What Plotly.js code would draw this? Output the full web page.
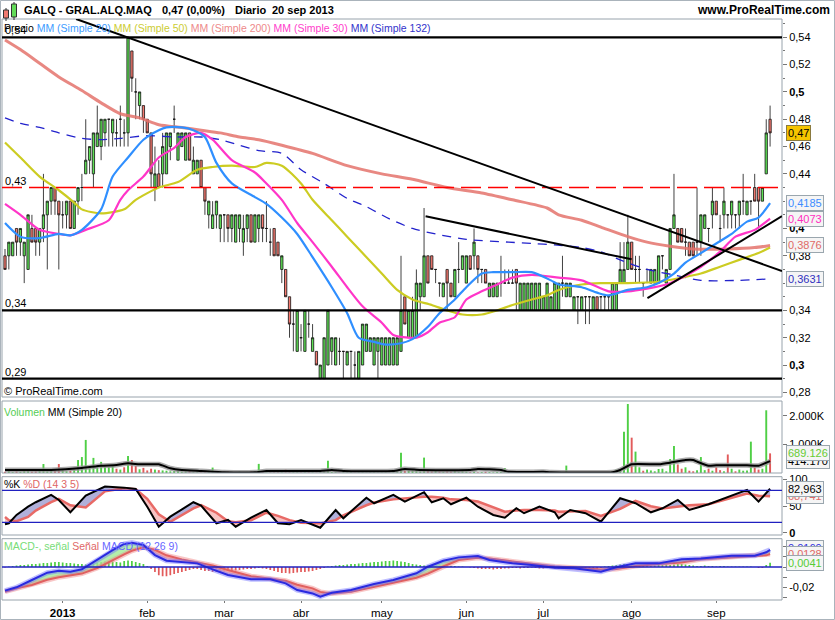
<!DOCTYPE html>
<html><head><meta charset="utf-8">
<script src="https://cdn.plot.ly/plotly-3.0.1.min.js"></script>
<style>html,body{margin:0;padding:0;background:#fff;}#chart{width:835px;height:620px;}</style>
</head><body><div id="chart"></div>
<script>
// ================= DATA =================
const startDate = '2012-12-07', endDate = '2013-09-20';
const holidays = ['2012-12-25','2012-12-26','2013-01-01','2013-03-29','2013-04-01','2013-05-01'];
const monthLabels = ['2013','feb','mar','abr','may','jun','jul','ago','sep'];

const open = [.38,.38,.38,.40,.39,.38,.37,.40,.40,.39, .40,.41,.42,.43,.42,.41,.41,.42,.40,.42,
 .43,.44,.45,.44,.46,.46,.47,.48,.47,.47, .48,.47,.47,.53,.50,.49,.49,.48,.47,.43,
 .44,.44,.44,.46,.48,.45,.46,.45,.47,.44, .44,.45,.43,.41,.40,.41,.40,.41,.41,.40,
 .39,.40,.39,.40,.41,.39,.40,.41,.40,.39, .40,.39,.37,.37,.35,.33,.31,.32,.31,.33,
 .31,.31,.29,.29,.30,.31,.30,.31,.31,.30, .31,.30,.29,.30,.31,.31,.30,.31,.30,.30,
 .30,.30,.30,.31,.35,.32,.32,.32,.35,.35, .38,.38,.37,.36,.35,.37,.36,.35,.37,.37,
 .36,.38,.38,.38,.37,.37,.35,.35,.35,.36, .36,.36,.36,.37,.34,.34,.34,.34,.34,.34,
 .34,.34,.34,.34,.34,.36,.35,.35,.34,.35, .34,.35,.35,.34,.35,.35,.35,.35,.34,.34,
 .36,.36,.37,.39,.37,.37,.36,.37,.36,.36, .36,.38,.36,.37,.40,.40,.40,.39,.39,.39,
 .39,.39,.40,.40,.41,.42,.40,.41,.41,.41, .41,.41,.42,.41,.42,.43,.43,.42,.44,.48];
const high = [.385,.39,.39,.40,.40,.39,.41,.41,.40,.40, .44,.42,.43,.43,.42,.42,.42,.42,.42,.43,
 .44,.48,.46,.47,.49,.48,.48,.48,.48,.48, .49,.48,.54,.53,.51,.50,.49,.48,.47,.46,
 .45,.47,.47,.47,.49,.47,.47,.47,.47,.46, .45,.45,.43,.42,.42,.42,.41,.41,.41,.41,
 .41,.41,.41,.41,.41,.41,.41,.41,.42,.40, .40,.39,.38,.37,.35,.34,.34,.33,.34,.34,
 .33,.31,.30,.32,.34,.32,.32,.32,.31,.31, .31,.31,.31,.33,.33,.32,.32,.32,.32,.32,
 .32,.32,.32,.38,.35,.34,.35,.37,.36,.415, .38,.38,.37,.36,.36,.37,.36,.37,.39,.38,
 .38,.38,.40,.38,.37,.37,.36,.36,.36,.38, .37,.37,.37,.37,.36,.36,.36,.36,.36,.36,
 .35,.36,.35,.36,.36,.38,.36,.36,.35,.35, .35,.35,.35,.35,.35,.35,.35,.35,.36,.36,
 .39,.39,.41,.39,.38,.38,.36,.37,.37,.37, .38,.38,.37,.40,.44,.40,.40,.40,.39,.39,
 .43,.41,.41,.40,.43,.42,.41,.43,.41,.42, .41,.42,.44,.42,.42,.44,.43,.43,.48,.49];
const low = [.37,.37,.38,.38,.38,.36,.37,.39,.38,.38, .39,.37,.41,.41,.37,.40,.40,.40,.40,.41,
 .42,.44,.44,.43,.46,.45,.46,.46,.46,.46, .46,.46,.46,.50,.48,.48,.47,.47,.43,.42,
 .43,.43,.44,.45,.47,.45,.46,.45,.45,.44, .44,.43,.41,.40,.40,.40,.39,.39,.39,.39,
 .39,.39,.38,.39,.39,.39,.39,.39,.39,.38, .38,.38,.36,.35,.32,.31,.31,.31,.31,.32,
 .31,.30,.29,.29,.30,.30,.30,.30,.29,.30, .29,.29,.29,.30,.31,.31,.30,.29,.30,.30,
 .30,.30,.30,.31,.33,.32,.32,.32,.34,.35, .36,.37,.36,.35,.35,.34,.35,.35,.36,.37,
 .36,.37,.37,.36,.36,.36,.35,.35,.35,.35, .36,.36,.36,.34,.34,.34,.34,.34,.34,.34,
 .34,.34,.34,.34,.34,.35,.35,.35,.34,.33, .34,.33,.33,.34,.34,.34,.34,.34,.34,.34,
 .36,.36,.37,.37,.36,.36,.35,.36,.36,.36, .36,.37,.36,.37,.40,.39,.39,.38,.38,.38,
 .38,.38,.40,.39,.40,.41,.39,.40,.40,.40, .40,.40,.41,.41,.41,.42,.40,.42,.44,.46];
const close = [.37,.39,.39,.39,.40,.39,.41,.39,.39,.40, .41,.42,.43,.42,.41,.41,.42,.40,.42,.43,
 .43,.45,.46,.47,.47,.48,.48,.48,.48,.47, .48,.47,.54,.51,.50,.50,.48,.47,.44,.44,
 .43,.46,.47,.47,.48,.47,.47,.47,.45,.45, .45,.43,.42,.42,.41,.42,.41,.41,.40,.41,
 .41,.41,.40,.41,.39,.41,.41,.40,.40,.39, .38,.38,.38,.35,.33,.33,.34,.32,.34,.33,
 .32,.30,.30,.32,.34,.32,.32,.31,.31,.31, .31,.30,.31,.33,.33,.32,.32,.32,.32,.32,
 .32,.32,.32,.34,.33,.34,.34,.36,.36,.38, .36,.37,.37,.36,.36,.36,.35,.37,.37,.38,
 .38,.37,.39,.37,.37,.36,.36,.36,.36,.36, .36,.36,.36,.36,.36,.36,.36,.36,.36,.36,
 .35,.36,.35,.36,.36,.36,.36,.36,.35,.35, .35,.35,.35,.35,.34,.35,.35,.35,.36,.36,
 .37,.37,.39,.37,.37,.37,.36,.37,.37,.37, .38,.38,.37,.40,.41,.39,.39,.39,.38,.38,
 .39,.41,.41,.40,.42,.41,.40,.42,.41,.42, .41,.42,.42,.42,.42,.42,.42,.43,.47,.47];
// volume in thousands
const volume = [40,70,30,60,40,90,120,50,60,80, 315,60,140,80,315,100,60,90,120,455,
 560,1160,250,530,200,390,230,210,280,150, 120,200,600,455,250,130,180,90,150,120,
 100,90,80,60,70,80,50,60,80,40, 60,90,70,80,190,40,60,30,50,40,
 30,50,20,40,60,50,320,40,60,30, 40,50,60,120,100,40,60,30,50,40,
 30,20,50,60,430,40,30,20,40,30, 50,20,30,40,20,30,40,20,30,40,
 20,30,50,710,150,80,90,120,60,540, 120,60,80,50,40,60,50,70,40,60,
 50,30,40,20,30,40,30,20,30,40, 175,30,40,30,20,30,20,30,20,40,
 30,20,30,20,30,40,260,30,20,30, 20,30,40,30,20,30,20,30,60,120,
 80,1450,2420,1240,750,200,80,120,90,60, 140,150,60,490,950,300,150,200,80,60,
 100,560,100,150,80,200,100,60,650,150, 60,120,80,90,1100,200,120,150,2200,689];
const volMAIdx = [0,12,20,25,29,32,35,40,43,46,51,57,65,68,82,85,88,101,104,108,121,123,129,131,140,142,158,160,163,170,173,177,179,180,183,185,193,196,199];
const volMA = [105,105,175,255,280,340,305,305,165,105,70,25,25,70,70,105,70,70,140,105,105,140,105,40,40,25,25,105,305,305,360,455,455,400,255,270,270,255,414];

// moving averages of price (index = trading day)
const ma20Idx = [0,4,9,14,17,20,25,28,32,36,40,42,46,49,52,55,59,65,68,72,76,80,85,89,92,96,99,103,106,110,113,117,120,124,127,132,137,142,144,150,154,157,162,167,170,174,177,181,185,189,193,196,199];
const ma20 = [0.404,0.394,0.393,0.396,0.395,0.399,0.414,0.438,0.452,0.465,0.472,0.474,0.474,0.472,0.467,0.448,0.433,0.423,0.418,0.408,0.396,0.379,0.357,0.338,0.32,0.317,0.315,0.316,0.319,0.328,0.338,0.348,0.357,0.367,0.368,0.368,0.368,0.362,0.359,0.357,0.353,0.351,0.355,0.357,0.36,0.367,0.375,0.382,0.389,0.396,0.405,0.408,0.4185];
const ma30Idx = [0,4,9,14,17,21,27,30,32,36,40,44,47,51,54,59,65,68,72,76,80,85,89,93,98,101,105,107,110,113,117,120,124,128,132,137,144,150,157,162,167,172,176,181,186,190,195,199];
const ma30 = [0.418,0.41,0.399,0.396,0.395,0.399,0.406,0.421,0.428,0.438,0.452,0.459,0.467,0.47,0.465,0.45,0.441,0.433,0.421,0.404,0.39,0.372,0.357,0.343,0.331,0.322,0.32,0.32,0.324,0.331,0.335,0.348,0.354,0.359,0.364,0.366,0.364,0.362,0.354,0.354,0.356,0.359,0.364,0.372,0.383,0.394,0.399,0.4073];
const ma50Idx = [0,4,9,14,18,20,25,31,34,40,45,50,54,59,65,68,72,77,80,85,89,93,98,102,106,111,115,119,124,128,132,137,141,144,150,155,162,170,176,181,186,191,196,199];
const ma50 = [0.463,0.452,0.438,0.428,0.419,0.414,0.411,0.414,0.421,0.43,0.434,0.443,0.445,0.446,0.445,0.448,0.446,0.433,0.421,0.406,0.394,0.382,0.367,0.355,0.348,0.344,0.34,0.337,0.337,0.34,0.344,0.348,0.351,0.355,0.359,0.36,0.36,0.361,0.364,0.367,0.372,0.377,0.382,0.386];
const ma200Idx = [0,4,9,14,20,25,30,35,40,46,51,56,61,66,72,80,89,98,106,115,124,132,141,144,150,155,162,167,173,179,188,195,199];
const ma200 = [0.538,0.531,0.521,0.511,0.501,0.492,0.484,0.481,0.476,0.474,0.472,0.47,0.467,0.465,0.461,0.455,0.446,0.44,0.436,0.43,0.426,0.421,0.415,0.41,0.406,0.401,0.394,0.39,0.387,0.385,0.385,0.386,0.3876];
const ma132Idx = [0,4,9,14,20,25,30,37,44,51,56,61,66,72,77,83,89,94,100,106,112,120,131,137,143,150,155,160,167,174,181,191,199];
const ma132 = [0.481,0.477,0.474,0.47,0.466,0.465,0.466,0.468,0.467,0.467,0.465,0.461,0.457,0.455,0.443,0.433,0.422,0.416,0.407,0.40,0.396,0.392,0.39,0.389,0.388,0.386,0.383,0.377,0.37,0.366,0.362,0.362,0.3631];

// horizontal levels and trend lines (index, price)
const levels = [0.54, 0.34, 0.29];
const dashedLevel = 0.43;
const trendLines = [[18.5,0.5534,202.1,0.3688],[109.4,0.409,163,0.3774],[167.1,0.349,202.1,0.409]];

// stochastic %K %D (14 3 5)
const stochIdx = [0,1,3,6,8,12,14,17,21,26,31,34,37,40,43,49,51,55,58,60,64,68,71,74,77,80,82,86,88,94,96,101,104,109,111,114,116,120,123,127,130,133,135,139,143,144,147,151,155,160,164,168,171,175,178,183,187,193,196,199];
const stochK = [16.3,18.2,33.8,49.3,57.6,71.3,61.9,38.8,70,86.9,85,82.5,49.3,11.8,30.6,57.6,51.2,18.2,24.4,11.8,28.7,43.1,18.2,16.3,24.4,16.3,9.9,43.1,27.6,66.2,55.7,71.3,58.7,76.4,57.6,65.1,53.8,66.2,49.3,33.8,28.7,46.3,37,49.3,38.8,27.6,43.1,37,21.2,65.1,55.7,38.8,46.3,61.9,43.1,53.8,65.1,80.7,58.7,82.963];
const stochD = [30,24,22,30,42,58,64,52,48,78,84,82,64,35,21,46,52,38,22,20,24,38,32,24,19,18,18,24,33,52,57,63,65,68,68,66,63,62,59,48,40,42,43,43,42,40,40,41,32,45,60,50,46,50,52,54,62,74,70,68.741];

// MACD (12 26 9)
const macdIdx = [0,3,7,11,14,17,20,24,28,31,33,36,39,42,46,50,54,58,64,69,73,76,80,82,85,90,96,101,107,110,114,118,123,126,132,137,143,148,155,159,164,170,176,181,189,195,198,199];
const macdLine = [-0.0233,-0.020,-0.0128,-0.0056,-0.0036,-0.0046,-0.0023,0.0069,0.0167,0.0227,0.024,0.0217,0.0118,0.0062,0.0052,0.0036,-0.0023,-0.0079,-0.0121,-0.0121,-0.0161,-0.0227,-0.026,-0.0292,-0.0253,-0.0227,-0.0167,-0.0128,-0.0062,0.0003,0.0062,0.0095,0.0108,0.0069,0.0036,0.002,-0.0007,-0.0013,-0.0046,-0.0003,0.0036,0.0036,0.0076,0.0085,0.0111,0.0111,0.0145,0.0169];
const signalLine = [-0.0243,-0.021,-0.0177,-0.0125,-0.010,-0.0085,-0.0065,-0.001,0.007,0.0125,0.016,0.0195,0.017,0.0115,0.0075,0.0045,0.0015,-0.003,-0.009,-0.0115,-0.0135,-0.0175,-0.021,-0.0245,-0.026,-0.0245,-0.020,-0.0155,-0.0105,-0.0065,0.0005,0.0069,0.0092,0.0085,0.0055,0.003,0.0005,-0.0008,-0.0025,-0.002,0.001,0.003,0.0045,0.0076,0.0098,0.0108,0.0115,0.0128];
const macdHist = [-0.0005,0.0005,0.001,0.0015,0.002,0.002,0.0025,0.003,0.003,0.0035,
 0.004,0.004,0.0045,0.005,0.005,0.0045,0.004,0.004,0.0035,0.003,
 0.003,0.0025,0.003,0.0035,0.004,0.005,0.0055,0.006,0.0055,0.005,
 0.0045,0.006,0.0065,0.006,0.005,0.004,0.003,0.001,-0.002,-0.005,
 -0.008,-0.009,-0.009,-0.008,-0.007,-0.006,-0.005,-0.004,-0.003,-0.002,
 -0.002,-0.003,-0.004,-0.004,-0.005,-0.005,-0.005,-0.0045,-0.004,-0.004,
 -0.0035,-0.003,-0.0025,-0.002,-0.002,-0.0015,-0.001,-0.0015,-0.002,-0.003,
 -0.004,-0.005,-0.006,-0.006,-0.0065,-0.006,-0.0055,-0.005,-0.005,-0.0045,
 -0.004,-0.003,-0.002,-0.001,0.0005,0.001,0.0015,0.002,0.002,0.0025,
 0.003,0.003,0.0035,0.004,0.004,0.0045,0.005,0.005,0.0055,0.006,
 0.006,0.0065,0.006,0.0055,0.005,0.004,0.003,0.0025,0.002,0.0015,
 0.0015,0.001,0.001,0.0015,0.001,0.0005,0.001,0.001,0.0005,0.0005,
 0,-0.0005,-0.001,-0.0015,-0.002,-0.002,-0.002,-0.0025,-0.002,-0.002,
 -0.0015,-0.0015,-0.001,-0.001,-0.0015,-0.001,-0.001,-0.0005,-0.001,-0.0015,
 -0.0015,-0.001,-0.001,-0.0015,-0.002,-0.002,-0.002,-0.0015,-0.001,-0.0005,
 -0.001,-0.0015,-0.002,-0.0025,-0.002,-0.001,0.0005,0.001,0.0015,0.002,
 0.0025,0.003,0.0025,0.002,0.002,0.0015,0.0015,0.001,0.001,0.0015,
 0.002,0.002,0.0025,0.002,0.0025,0.003,0.003,0.0025,0.002,0.0015,
 0.001,0.001,0.0015,0.001,0.001,0.0005,0.001,0.001,0.0005,0.0005,
 0.0005,0.0005,0.0005,0.0005,0.0005,0,-0.001,-0.001,0.002,0.0041];

// ================= BUILD =================
function tradingDays(s,e,hol){const out=[];const d=new Date(s+'T00:00:00Z');const end=new Date(e+'T00:00:00Z');
  while(d<=end){const wd=d.getUTCDay();const iso=d.toISOString().slice(0,10);
    if(wd!==0&&wd!==6&&!hol.includes(iso))out.push(iso);d.setUTCDate(d.getUTCDate()+1);}return out;}
const dates = tradingDays(startDate,endDate,holidays);
const N = close.length;
const idx = close.map((_,i)=>i);
const tickIdx=[], tickTxt=[];
let prevM=null;
dates.forEach((d,i)=>{const m=d.slice(0,7);if(m!==prevM){ if(d.slice(0,4)==='2013'){const mi=parseInt(d.slice(5,7))-1; if(mi<monthLabels.length){tickIdx.push(i);tickTxt.push(mi===0?'<b>'+monthLabels[0]+'</b>':monthLabels[mi]);}} prevM=m;}});

const FONT='Liberation Sans, Arial, sans-serif';
const L=2,R=782,T=19,B=600;
const PX=x=>(x-L)/(R-L), PY=y=>(B-y)/(B-T);

const up=[];for(let i=0;i<N;i++){up.push(close[i]>open[i]?true:close[i]<open[i]?false:(i===0||close[i]>=close[i-1]));}
const volColors=up.map(u=>u?'#4fcf45':'#e25b5b');
const histColors=macdHist.map(v=>v>=0?'#4fcf45':'#e25b5b');

function bandPolys(xs,a,b){const U={x:[],y:[]},D={x:[],y:[]};
  for(let j=0;j<xs.length-1;j++){const x0=xs[j],x1=xs[j+1],a0=a[j],a1=a[j+1],b0=b[j],b1=b[j+1];const d0=a0-b0,d1=a1-b1;
    if(d0*d1>=0){const t=(d0+d1)>=0?U:D;t.x.push(x0,x1,x1,x0,null);t.y.push(a0,a1,b1,b0,null);}
    else{const f=d0/(d0-d1);const xc=x0+f*(x1-x0),yc=a0+f*(a1-a0);const t0=d0>0?U:D,t1=d1>0?U:D;
      t0.x.push(x0,xc,x0,null);t0.y.push(a0,yc,b0,null);t1.x.push(xc,x1,x1,null);t1.y.push(yc,a1,b1,null);}}
  return {U,D};}

const traces=[];
// price
traces.push({type:'candlestick',x:idx,open:open,high:high,low:low,close:close,xaxis:'x',yaxis:'y',
  increasing:{line:{color:'#111',width:0.8},fillcolor:'#5ee055'},decreasing:{line:{color:'#111',width:0.8},fillcolor:'#f57a70'},
  whiskerwidth:0,hoverinfo:'skip'});
function maLine(xs,ys,color,width,dash,opacity){return {type:'scatter',mode:'lines',x:xs,y:ys,xaxis:'x',yaxis:'y',hoverinfo:'skip',opacity:opacity||1,
  line:{color:color,width:width,dash:dash||'solid',shape:'spline',smoothing:0.7}};}
traces.push(maLine(ma200Idx,ma200,'#e4736c',3,null,0.85));
traces.push(maLine(ma132Idx,ma132,'#2222cc',1.3,'9px,7px'));
traces.push(maLine(ma50Idx,ma50,'#cccc22',2.2));
traces.push(maLine(ma30Idx,ma30,'#ff35c8',2.2));
traces.push(maLine(ma20Idx,ma20,'#2f8fff',2.2));
// volume
traces.push({type:'bar',x:idx,y:volume,xaxis:'x',yaxis:'y2',marker:{color:volColors,line:{width:0}},width:0.5,hoverinfo:'skip'});
traces.push({type:'scatter',mode:'lines',x:volMAIdx,y:volMA,xaxis:'x',yaxis:'y2',line:{color:'rgba(150,150,150,0.8)',width:5,shape:'spline',smoothing:0.4},hoverinfo:'skip'});
traces.push({type:'scatter',mode:'lines',x:volMAIdx,y:volMA,xaxis:'x',yaxis:'y2',line:{color:'#000',width:2,shape:'spline',smoothing:0.4},hoverinfo:'skip'});
// stochastic
const sp=bandPolys(stochIdx,stochK,stochD);
traces.push({type:'scatter',mode:'lines',x:sp.U.x,y:sp.U.y,xaxis:'x',yaxis:'y3',fill:'toself',fillcolor:'rgba(150,150,205,0.75)',line:{width:0},hoverinfo:'skip'});
traces.push({type:'scatter',mode:'lines',x:sp.D.x,y:sp.D.y,xaxis:'x',yaxis:'y3',fill:'toself',fillcolor:'rgba(245,175,175,0.75)',line:{width:0},hoverinfo:'skip'});
traces.push({type:'scatter',mode:'lines',x:stochIdx,y:stochD,xaxis:'x',yaxis:'y3',line:{color:'#e86a66',width:2.5},hoverinfo:'skip'});
traces.push({type:'scatter',mode:'lines',x:stochIdx,y:stochK,xaxis:'x',yaxis:'y3',line:{color:'#000',width:2},hoverinfo:'skip'});
// MACD
const mp=bandPolys(macdIdx,macdLine,signalLine);
traces.push({type:'scatter',mode:'lines',x:mp.U.x,y:mp.U.y,xaxis:'x',yaxis:'y4',fill:'toself',fillcolor:'rgba(160,235,150,0.8)',line:{width:0},hoverinfo:'skip'});
traces.push({type:'scatter',mode:'lines',x:mp.D.x,y:mp.D.y,xaxis:'x',yaxis:'y4',fill:'toself',fillcolor:'rgba(245,170,170,0.8)',line:{width:0},hoverinfo:'skip'});
traces.push({type:'bar',x:idx,y:macdHist,xaxis:'x',yaxis:'y4',marker:{color:histColors,line:{width:0}},width:0.45,hoverinfo:'skip'});
traces.push({type:'scatter',mode:'lines',x:macdIdx,y:signalLine,xaxis:'x',yaxis:'y4',line:{color:'rgba(240,130,130,0.45)',width:5},hoverinfo:'skip'});
traces.push({type:'scatter',mode:'lines',x:macdIdx,y:signalLine,xaxis:'x',yaxis:'y4',line:{color:'#e06060',width:2},hoverinfo:'skip'});
traces.push({type:'scatter',mode:'lines',x:macdIdx,y:macdLine,xaxis:'x',yaxis:'y4',line:{color:'rgba(110,110,255,0.45)',width:5},hoverinfo:'skip'});
traces.push({type:'scatter',mode:'lines',x:macdIdx,y:macdLine,xaxis:'x',yaxis:'y4',line:{color:'#2a2ae0',width:2},hoverinfo:'skip'});

// ================= LAYOUT =================
const dom=(yt,yb)=>[Math.max(0,PY(yb)),Math.min(1,PY(yt))];
const priceTicks=[0.28,0.30,0.32,0.34,0.38,0.40,0.44,0.46,0.48,0.50,0.52,0.54];
const priceText=priceTicks.map(v=>{const s=String(+v.toFixed(2)).replace('.',',');return (Math.abs(v*10-Math.round(v*10))<1e-9)?'<b>'+s+'</b>':s;});
const minorVals=[];for(let k=28;k<=55;k++)minorVals.push(k/100);
const axFont={family:FONT,size:11,color:'#000'};
const yBase={side:'right',showgrid:false,zeroline:false,showline:false,ticks:'outside',ticklen:4,tickcolor:'#777',tickfont:axFont,fixedrange:true,anchor:'x'};

const shapes=[];
['y','y2','y3','y4'].forEach(a=>shapes.push({type:'rect',xref:'paper',x0:0,x1:1,yref:a+' domain',y0:0,y1:1,line:{color:'#98a3ac',width:1}}));
shapes.push({type:'rect',xref:'paper',yref:'paper',x0:PX(0.5),x1:PX(834.5),y0:PY(0.5),y1:PY(619.5),line:{color:'#aab3bb',width:1}});
levels.forEach(v=>shapes.push({type:'line',xref:'paper',x0:0,x1:1,yref:'y',y0:v,y1:v,line:{color:'#000',width:2.2}}));
shapes.push({type:'line',xref:'paper',x0:0,x1:1,yref:'y',y0:dashedLevel,y1:dashedLevel,line:{color:'#ff0000',width:1.5,dash:'20px,7px'}});
trendLines.forEach(t=>shapes.push({type:'line',xref:'x',yref:'y',x0:t[0],y0:t[1],x1:t[2],y1:t[3],line:{color:'#000',width:2}}));
[80,20].forEach(v=>shapes.push({type:'line',xref:'paper',x0:0,x1:1,yref:'y3',y0:v,y1:v,line:{color:'#2020c0',width:1.3}}));
shapes.push({type:'line',xref:'paper',x0:0,x1:1,yref:'y4',y0:0,y1:0,line:{color:'#2020c0',width:1.3}});
// header icon
function pxRect(x0,y0,x1,y1,fill,lc){shapes.push({type:'rect',xref:'paper',yref:'paper',x0:PX(x0),x1:PX(x1),y0:PY(y1),y1:PY(y0),fillcolor:fill,line:{color:lc||'#333',width:1}});}
function pxLine(x0,y0,x1,y1){shapes.push({type:'line',xref:'paper',yref:'paper',x0:PX(x0),x1:PX(x1),y0:PY(y0),y1:PY(y1),line:{color:'#333',width:1}});}
pxLine(6,8,6,21);pxRect(3.5,10,8.5,18,'#f07a70');
pxLine(14,2,14,20);pxRect(11.5,4,16.5,17,'#63db58');

const ann=[];
function A(text,x,y,o){ann.push(Object.assign({text:text,xref:'paper',yref:'paper',x:PX(x),y:PY(y),xanchor:'left',yanchor:'middle',showarrow:false,font:{family:FONT,size:11,color:'#000'}},o||{}));}
const HF={family:FONT,size:11,color:'#000'};
A('<b>GALQ - GRAL.ALQ.MAQ</b>',22,10,{font:HF});
A('<b>0,47 (0,00%)</b>',160,10,{font:HF});
A('<b>Diario</b>',233,10,{font:HF});
A('<b>20 sep 2013</b>',270,10,{font:HF});
A('<b>www.ProRealTime.com</b>',832,10,{xanchor:'right',font:{family:FONT,size:12,color:'#000'}});
A('Precio <span style="color:#3c9bff">MM (Simple 20)</span> <span style="color:#cccc33">MM (Simple 50)</span> <span style="color:#ee8a8a">MM (Simple 200)</span> <span style="color:#ff40cc">MM (Simple 30)</span> <span style="color:#3333cc">MM (Simple 132)</span>',2,28,{font:{family:FONT,size:10.5,color:'#000'}});
A('© ProRealTime.com',2,391);
A('<span style="color:#55cc55">Volumen</span> MM (Simple 20)',2,412,{font:{family:FONT,size:10.5,color:'#000'}});
A('%K <span style="color:#e06666">%D (14 3 5)</span>',2,484,{font:{family:FONT,size:10.5,color:'#000'}});
A('<span style="color:#77dd77">MACD-, señal</span> <span style="color:#e06666">Señal</span> <span style="color:#6666ff">MACD (12 26 9)</span>',2,546,{font:{family:FONT,size:10.5,color:'#000'}});
// level labels
[[0.54,'0,54'],[0.43,'0,43'],[0.34,'0,34'],[0.29,'0,29']].forEach(l=>ann.push({text:l[1],xref:'paper',x:PX(3),xanchor:'left',yref:'y',y:l[0],yanchor:'bottom',showarrow:false,font:{family:FONT,size:11,color:'#000'},yshift:-1}));
// value boxes
function box(text,yref,y,color,bg,bc){ann.push({text:text,xref:'paper',x:PX(786),xanchor:'left',yref:yref,y:y,yanchor:'middle',showarrow:false,
  font:{family:FONT,size:11,color:color},bgcolor:bg||'#f5f5f5',bordercolor:bc||'#9aa6ae',borderwidth:1,borderpad:1});}
box('0,47','y',close[N-1],'#000','#f5c400','#8a7a40');
box('0,4185','y',ma20[ma20.length-1],'#3c8cff');
box('0,4073','y',ma30[ma30.length-1],'#ff30c0');
box('0,3876','y',ma200[ma200.length-1],'#e06a66');
box('0,3631','y',ma132[ma132.length-1],'#3030c0');
box('414.170','y2',volMA[volMA.length-1],'#000');
box('689.126','y2',volume[N-1],'#66cc33');
box('68,741','y3',stochD[stochD.length-1],'#e06a66');
box('82,963','y3',stochK[stochK.length-1],'#000');
box('0,0169','y4',0.0185,'#3030e0');
box('0,0128','y4',signalLine[signalLine.length-1],'#e06a66');
box('0,0041','y4',macdHist[N-1],'#55cc33');

const layout={width:835,height:620,margin:{l:L,r:835-R,t:T,b:620-B},paper_bgcolor:'#fff',plot_bgcolor:'#fff',showlegend:false,
  font:{family:FONT,size:11,color:'#000'},bargap:0.5,boxgap:0.15,
  xaxis:{domain:[0,1],range:[-0.78,202.1],anchor:'y4',tickmode:'array',tickvals:tickIdx,ticktext:tickTxt,ticks:'outside',ticklen:2,tickcolor:'#777',
    tickfont:{family:FONT,size:11.5,color:'#000'},showgrid:false,zeroline:false,showline:false,rangeslider:{visible:false},fixedrange:true},
  yaxis:Object.assign({},yBase,{domain:dom(T,397),range:[0.2766,0.5534],tickmode:'array',tickvals:priceTicks,ticktext:priceText,
    minor:{tickvals:minorVals,ticks:'outside',ticklen:2,tickcolor:'#777'}}),
  yaxis2:Object.assign({},yBase,{domain:dom(401,473),range:[0,2526],tickmode:'array',tickvals:[1000,2000],ticktext:['1.000K','2.000K']}),
  yaxis3:Object.assign({},yBase,{domain:dom(476.7,535),range:[-3.8,105.5],tickmode:'array',tickvals:[0,50,100],ticktext:['<b>0</b>','50','100']}),
  yaxis4:Object.assign({},yBase,{domain:dom(538.7,B),range:[-0.0325,0.0279],tickmode:'array',tickvals:[-0.03,-0.02,-0.01,0,0.01,0.02],ticktext:['','-0,02','','','','']}),
  shapes:shapes,annotations:ann};
Plotly.newPlot('chart',traces,layout,{staticPlot:true,displayModeBar:false});
</script></body></html>
